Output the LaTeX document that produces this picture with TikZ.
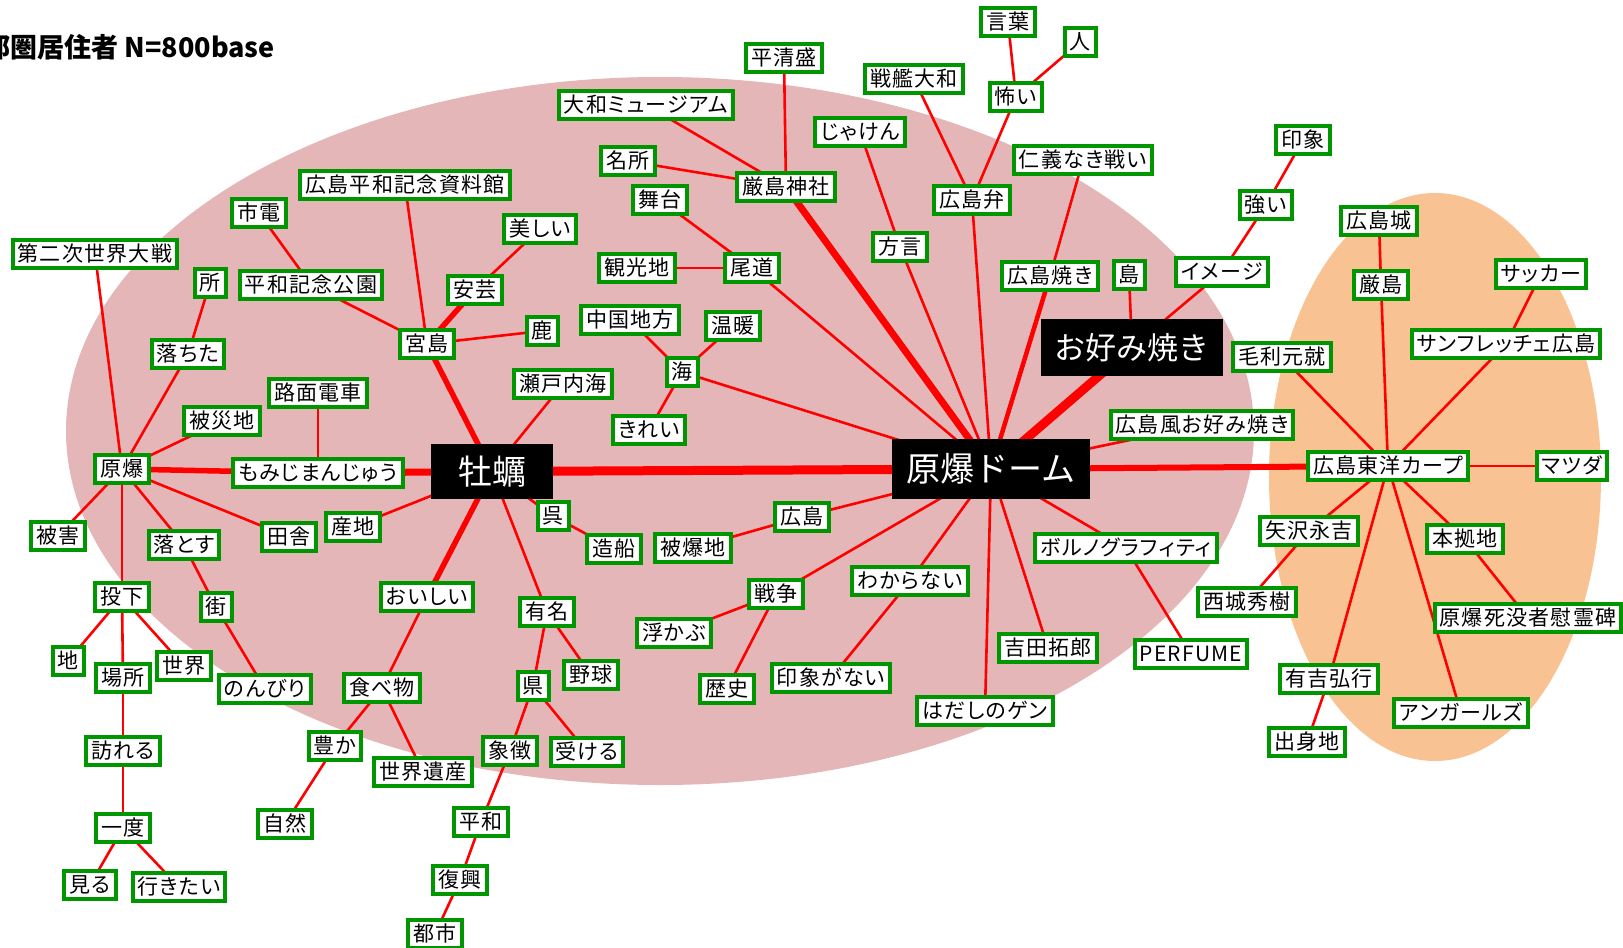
\documentclass[tikz,border=0pt]{standalone}
\usepackage{fontspec}
\newfontfamily\jp[RawFeature=+palt,LetterSpace=6]{Noto Sans CJK JP}
\newfontfamily\jpb{Noto Sans CJK JP}
\definecolor{ggreen}{RGB}{0,150,0}
\definecolor{pinkc}{RGB}{228,182,183}
\definecolor{orangec}{RGB}{249,194,146}
\pgfdeclarelayer{bg}
\pgfdeclarelayer{edges}
\pgfsetlayers{bg,edges,main}
\tikzset{
  gn/.style={draw=ggreen, line width=4pt, fill=white, font=\jp\fontsize{21}{21}\selectfont,
    inner xsep=5pt, inner ysep=3.25pt, text height=18pt, text depth=3pt},
  bk/.style={fill=black, text=white, inner sep=0pt, font=\jpb\fontsize{34}{34}\selectfont},
  ln/.style={draw=red, line width=2.6pt},
}
\begin{document}
\begin{tikzpicture}[x=1pt,y=-1pt]
\useasboundingbox (0,0) rectangle (1623,948);
\begin{pgfonlayer}{bg}
\fill[white] (0,0) rectangle (1623,948);
\fill[pinkc] (660,431) ellipse [x radius=594, y radius=354];
\fill[orangec] (1435,477) ellipse [x radius=166, y radius=284];
\end{pgfonlayer}

\node[anchor=east, inner sep=0pt, font=\jpb\bfseries\fontsize{27}{27}\selectfont] (title) at (275,47) {都圏居住者 N=800base};

% black hubs
\node[bk, minimum width=122pt, minimum height=55pt] (kaki) at (492,471.5) {牡蠣};
\node[bk, minimum width=198pt, minimum height=60pt] (dome) at (991,469) {原爆ドーム};
\node[bk, minimum width=182pt, minimum height=57pt, font=\jpb\fontsize{31}{31}\selectfont] (okonomi) at (1132,347.5) {お好み焼き};

% green nodes
\node[gn] (heike) at (784,58) {平清盛};
\node[gn] (kotoba) at (1008,22) {言葉};
\node[gn] (hito) at (1080,42) {人};
\node[gn] (senkan) at (914,79) {戦艦大和};
\node[gn] (kowai) at (1016,97) {怖い};
\node[gn] (yamato) at (646,105) {大和ミュージアム};
\node[gn] (jaken) at (860,132) {じゃけん};
\node[gn] (meisho) at (628,161) {名所};
\node[gn] (jinja) at (786,187) {厳島神社};
\node[gn] (jingi) at (1083,160) {仁義なき戦い};
\node[gn] (inshou) at (1303,140) {印象};
\node[gn] (butai) at (660,200) {舞台};
\node[gn] (ben) at (972,200) {広島弁};
\node[gn] (tsuyoi) at (1266,205) {強い};
\node[gn] (castle) at (1379,221) {広島城};
\node[gn] (shiryo) at (405,185) {広島平和記念資料館};
\node[gn] (shiden) at (259,213) {市電};
\node[gn] (utsukushii) at (540,229) {美しい};
\node[gn] (wwii) at (95,254) {第二次世界大戦};
\node[gn] (hogen) at (900,247) {方言};
\node[gn] (kanko) at (637,268) {観光地};
\node[gn] (onomichi) at (752,268) {尾道};
\node[gn] (tokoro) at (210,283) {所};
\node[gn] (koen) at (311,285) {平和記念公園};
\node[gn] (aki) at (475,290) {安芸};
\node[gn] (hyaki) at (1050,276) {広島焼き};
\node[gn] (shima) at (1129,275) {島};
\node[gn] (image) at (1222,272) {イメージ};
\node[gn] (itsuku) at (1381,285) {厳島};
\node[gn] (soccer) at (1541,274) {サッカー};
\node[gn] (chugoku) at (630,320) {中国地方};
\node[gn] (ondan) at (733,326) {温暖};
\node[gn] (shika) at (542,331) {鹿};
\node[gn] (miyajima) at (427,344) {宮島};
\node[gn] (ochita) at (188,354) {落ちた};
\node[gn] (sanfre) at (1506,344) {サンフレッチェ広島};
\node[gn] (mouri) at (1282,357) {毛利元就};
\node[gn] (umi) at (682,372) {海};
\node[gn] (seto) at (563,384) {瀬戸内海};
\node[gn] (romen) at (318,393) {路面電車};
\node[gn] (hisaichi) at (222,421) {被災地};
\node[gn] (kirei) at (649,430) {きれい};
\node[gn] (hfuu) at (1202,425) {広島風お好み焼き};
\node[gn] (genbaku) at (122,469) {原爆};
\node[gn] (momiji) at (318,473) {もみじまんじゅう};
\node[gn] (carp) at (1388,466) {広島東洋カープ};
\node[gn] (mazda) at (1572,466) {マツダ};
\node[gn] (higai) at (58,536) {被害};
\node[gn] (kure) at (553,516) {呉};
\node[gn] (inaka) at (289,537) {田舎};
\node[gn] (sanchi) at (353,527) {産地};
\node[gn] (zosen) at (614,549) {造船};
\node[gn] (hibakuchi) at (693,548) {被爆地};
\node[gn] (hiroshima) at (802,517) {広島};
\node[gn] (otosu) at (184,545) {落とす};
\node[gn] (porno) at (1126,548) {ボルノグラフィティ};
\node[gn] (yazawa) at (1309,531) {矢沢永吉};
\node[gn] (honkyo) at (1465,539) {本拠地};
\node[gn] (toka) at (122,597) {投下};
\node[gn] (machi) at (216,607) {街};
\node[gn] (oishii) at (427,597) {おいしい};
\node[gn] (yumei) at (547,612) {有名};
\node[gn] (senso) at (776,594) {戦争};
\node[gn] (wakaranai) at (910,581) {わからない};
\node[gn] (saijo) at (1247,602) {西城秀樹};
\node[gn] (ireihi) at (1528,618) {原爆死没者慰霊碑};
\node[gn] (ukabu) at (674,633) {浮かぶ};
\node[gn] (chi) at (68,661) {地};
\node[gn] (sekai) at (184,666) {世界};
\node[gn] (basho) at (123,678) {場所};
\node[gn] (nonbiri) at (265,689) {のんびり};
\node[gn] (tabemono) at (382,688) {食べ物};
\node[gn] (ken) at (533,686) {県};
\node[gn] (yakyu) at (591,675) {野球};
\node[gn] (rekishi) at (727,689) {歴史};
\node[gn] (inshounai) at (831,678) {印象がない};
\node[gn] (yoshida) at (1048,648) {吉田拓郎};
\node[gn] (perfume) at (1191,654) {PERFUME};
\node[gn] (ariyoshi) at (1329,679) {有吉弘行};
\node[gn] (angirls) at (1461,713) {アンガールズ};
\node[gn] (hadashi) at (985,711) {はだしのゲン};
\node[gn] (otozureru) at (123,751) {訪れる};
\node[gn] (yutaka) at (335,746) {豊か};
\node[gn] (isan) at (423,772) {世界遺産};
\node[gn] (shocho) at (510,751) {象徴};
\node[gn] (ukeru) at (587,752) {受ける};
\node[gn] (shusshin) at (1307,742) {出身地};
\node[gn] (shizen) at (285,824) {自然};
\node[gn] (heiwa) at (481,822) {平和};
\node[gn] (ichido) at (123,828) {一度};
\node[gn] (miru) at (90,885) {見る};
\node[gn] (ikitai) at (179,887) {行きたい};
\node[gn] (fukko) at (460,880) {復興};
\node[gn] (toshi) at (435,934) {都市};

\begin{pgfonlayer}{edges}
\foreach \a/\b in {jinja/yamato, jinja/meisho, jinja/heike,
  onomichi/butai, onomichi/kanko, onomichi/dome,
  hogen/jaken, hogen/dome, ben/senkan, ben/kowai, kowai/kotoba, kowai/hito, ben/dome,
  hyaki/jingi, okonomi/shima, okonomi/image, image/tsuyoi, tsuyoi/inshou,
  umi/chugoku, umi/ondan, umi/kirei, umi/dome,
  dome/hfuu, dome/hiroshima, hiroshima/hibakuchi, dome/senso, senso/ukabu, senso/rekishi,
  dome/wakaranai, wakaranai/inshounai, dome/hadashi, dome/yoshida, dome/porno, porno/perfume,
  carp/mazda, carp/mouri, carp/itsuku, itsuku/castle, carp/sanfre, sanfre/soccer,
  carp/yazawa, yazawa/saijo, carp/ariyoshi, ariyoshi/shusshin, carp/angirls, carp/honkyo, honkyo/ireihi,
  kaki/seto, kaki/sanchi, kaki/kure, kure/zosen, kaki/yumei,
  yumei/ken, yumei/yakyu, ken/shocho, ken/ukeru, shocho/heiwa, heiwa/fukko, fukko/toshi,
  oishii/tabemono, tabemono/yutaka, tabemono/isan, yutaka/shizen,
  miyajima/shika, miyajima/koen, koen/shiden, miyajima/shiryo, aki/utsukushii,
  momiji/romen,
  genbaku/wwii, genbaku/ochita, ochita/tokoro, genbaku/hisaichi, genbaku/higai, genbaku/toka, genbaku/otosu, genbaku/inaka,
  otosu/machi, machi/nonbiri,
  toka/chi, toka/basho, toka/sekai, basho/otozureru, otozureru/ichido, ichido/miru, ichido/ikitai}
  \draw[ln] (\a.center) -- (\b.center);
\draw[ln, line width=9pt] (dome.center) -- (kaki.center);
\draw[ln, line width=9pt] (dome.center) -- (okonomi.center);
\draw[ln, line width=7pt] (dome.center) -- (jinja.center);
\draw[ln, line width=6pt] (dome.center) -- (carp.center);
\draw[ln, line width=4.5pt] (dome.center) -- (hyaki.center);
\draw[ln, line width=7pt] (kaki.center) -- (momiji.center);
\draw[ln, line width=5.5pt] (momiji.center) -- (genbaku.center);
\draw[ln, line width=5.5pt] (kaki.center) -- (miyajima.center);
\draw[ln, line width=5.5pt] (miyajima.center) -- (aki.center);
\draw[ln, line width=5.5pt] (kaki.center) -- (oishii.center);
\end{pgfonlayer}
\end{tikzpicture}
\end{document}
